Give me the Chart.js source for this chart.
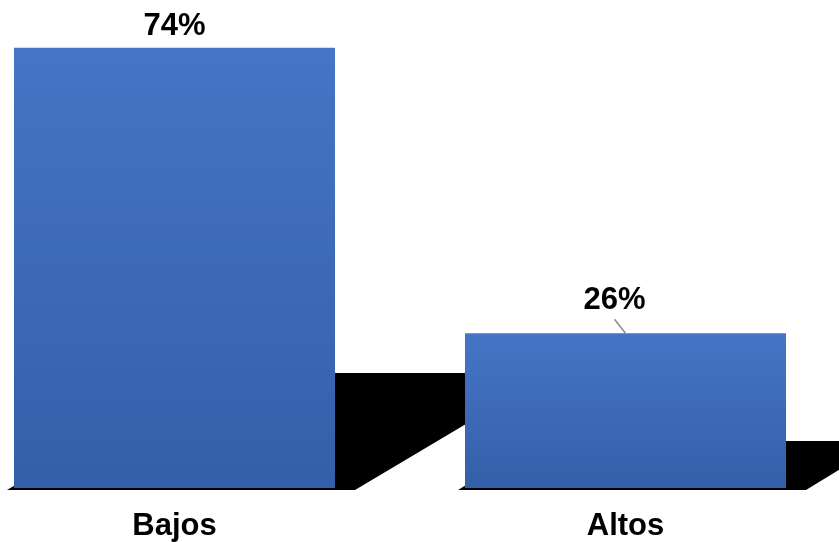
<!DOCTYPE html>
<html>
<head>
<meta charset="utf-8">
<script src="https://cdn.jsdelivr.net/npm/chart.js@4.4.1/dist/chart.umd.min.js"></script>
<style>
  html, body { margin: 0; padding: 0; background: #fff; overflow: hidden; }
  #wrap { position: absolute; left: -51px; top: 0; width: 902px; height: 542px; }
</style>
</head>
<body>
<div id="wrap"><canvas id="chart"></canvas></div>
<script>
// Datos
const categorias = ['Bajos', 'Altos'];
const porcentajes = [74, 26];
const etiquetas = ['74%', '26%'];

// Sombra negra inclinada detrás de cada barra y etiquetas de valor
const sombraPlugin = {
    id: 'sombra',
    beforeDatasetsDraw(chart) {
        const ctx = chart.ctx;
        const meta = chart.getDatasetMeta(0);
        ctx.save();
        ctx.fillStyle = '#000';
        meta.data.forEach(bar => {
            const left = bar.x - bar.width / 2;
            const right = bar.x + bar.width / 2;
            const base = bar.base;
            const h = base - bar.y;
            const sh = h * 0.2386 + 10;
            const dx = sh * 1.71;
            ctx.beginPath();
            ctx.moveTo(left - 7, base + 2);
            ctx.lineTo(right + 20, base + 2);
            ctx.lineTo(right + 20 + dx, base - sh);
            ctx.lineTo(left - 7 + dx, base - sh);
            ctx.closePath();
            ctx.fill();
        });
        ctx.restore();
    },
    afterDatasetsDraw(chart, args, opts) {
        const ctx = chart.ctx;
        const meta = chart.getDatasetMeta(0);
        ctx.save();
        ctx.font = 'bold 31px "Liberation Sans", Arial, sans-serif';
        ctx.textAlign = 'center';
        ctx.textBaseline = 'alphabetic';
        meta.data.forEach((bar, i) => {
            const off = opts.offsets[i];
            const tx = bar.x + off.dx;
            const ty = bar.y - off.dy;
            if (off.leader) {
                ctx.strokeStyle = '#8c8c8c';
                ctx.lineWidth = 1.5;
                ctx.beginPath();
                ctx.moveTo(tx, ty + 10);
                ctx.lineTo(bar.x, bar.y);
                ctx.stroke();
            }
            ctx.fillStyle = '#000';
            ctx.fillText(etiquetas[i], tx, ty);
        });
        ctx.restore();
    }
};

const ctx = document.getElementById('chart').getContext('2d');
new Chart(ctx, {
    type: 'bar',
    data: {
        labels: categorias,
        datasets: [{
            data: porcentajes,
            // degradado vertical dentro de cada barra
            backgroundColor: function(context) {
                const chart = context.chart;
                const area = chart.chartArea;
                if (!area || context.raw == null) return '#4171BF';
                const top = chart.scales.y.getPixelForValue(context.raw);
                const g = chart.ctx.createLinearGradient(0, top, 0, area.bottom);
                g.addColorStop(0, '#4674C6');
                g.addColorStop(1, '#345FA8');
                return g;
            },
            borderWidth: 0,
            barPercentage: 0.7118,
            categoryPercentage: 1
        }]
    },
    options: {
        responsive: true,
        maintainAspectRatio: false,
        animation: false,
        layout: { padding: { top: 12, left: 0, right: 0, bottom: 0 } },
        plugins: {
            legend: { display: false },
            tooltip: { enabled: false },
            sombra: {
                offsets: [
                    { dx: 0, dy: 13, leader: false },
                    { dx: -11, dy: 24, leader: true }
                ]
            }
        },
        scales: {
            x: {
                grid: { display: false, drawTicks: false },
                border: { display: false },
                ticks: {
                    color: '#000',
                    padding: 20,
                    font: { family: '"Liberation Sans", Arial, sans-serif', size: 31, weight: 'bold' }
                },
                afterFit(scale) { scale.height = 54; }
            },
            y: {
                display: false,
                min: 0,
                max: 80
            }
        }
    },
    plugins: [sombraPlugin]
});
</script>
</body>
</html>
